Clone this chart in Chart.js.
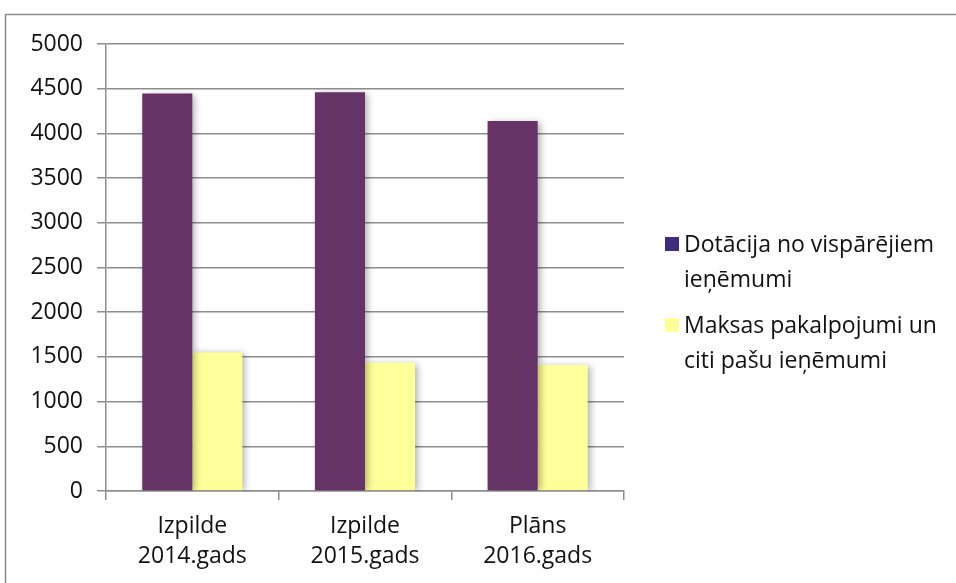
<!DOCTYPE html>
<html>
<head>
<meta charset="utf-8">
<script src="https://cdn.jsdelivr.net/npm/chart.js@4"></script>
<style>
  html, body { margin: 0; padding: 0; background: #fff; }
  #wrap { width: 956px; height: 583px; position: relative; }
</style>
</head>
<body>
<div id="wrap"><canvas id="c" width="956" height="583"></canvas></div>
<script>
const categories = [['Izpilde', '2014.gads'], ['Izpilde', '2015.gads'], ['Plāns', '2016.gads']];
const seriesNames = [['Dotācija no vispārējiem', 'ieņēmumi'], ['Maksas pakalpojumi un', 'citi pašu ieņēmumi']];
const dotacija = [4445, 4460, 4140];
const maksas = [1550, 1435, 1410];
const yTicks = [0, 500, 1000, 1500, 2000, 2500, 3000, 3500, 4000, 4500, 5000];

const FONT = "'Open Sans', 'Liberation Sans', sans-serif";
const TEXT = '#111111';
const GRID = '#8e8e8e';

const framePlugin = {
  id: 'frame',
  beforeDraw(chart) {
    const ctx = chart.ctx;
    ctx.save();
    ctx.fillStyle = '#fff';
    ctx.fillRect(0, 0, chart.width, chart.height);
    ctx.strokeStyle = '#8a8a8a';
    ctx.lineWidth = 1.5;
    ctx.beginPath();
    ctx.moveTo(chart.width, 14.5);
    ctx.lineTo(5.5, 14.5);
    ctx.lineTo(5.5, chart.height);
    ctx.stroke();
    ctx.restore();
  }
};

const shadowPlugin = {
  id: 'barShadow',
  beforeDatasetsDraw(chart) {
    const ctx = chart.ctx;
    ctx.save();
    ctx.shadowColor = 'rgba(0,0,0,0.32)';
    ctx.shadowBlur = 7;
    ctx.shadowOffsetX = 3;
    ctx.shadowOffsetY = 1;
  },
  afterDatasetsDraw(chart) {
    chart.ctx.restore();
  }
};

const legendPlugin = {
  id: 'sideLegend',
  afterDraw(chart, args, opts) {
    const ctx = chart.ctx;
    ctx.save();
    ctx.font = opts.fontSize + 'px ' + FONT;
    ctx.textBaseline = 'middle';
    ctx.textAlign = 'left';
    let y = opts.top;
    chart.data.datasets.forEach((ds, i) => {
      const lines = Array.isArray(ds.label) ? ds.label : [ds.label];
      ctx.fillStyle = opts.boxColors[i] || ds.backgroundColor;
      ctx.fillRect(opts.left, y - opts.box / 2 - 1, opts.box, opts.box);
      ctx.fillStyle = TEXT;
      lines.forEach((ln, j) => {
        ctx.fillText(ln, opts.left + opts.box + opts.gap, y + j * opts.lineHeight);
      });
      y += lines.length * opts.lineHeight + opts.itemGap;
    });
    ctx.restore();
  }
};

new Chart(document.getElementById('c'), {
  type: 'bar',
  data: {
    labels: categories,
    datasets: [
      { label: seriesNames[0], data: dotacija, backgroundColor: '#663366', borderWidth: 0 },
      { label: seriesNames[1], data: maksas, backgroundColor: '#ffff99', borderWidth: 0 }
    ]
  },
  options: {
    responsive: false,
    animation: false,
    devicePixelRatio: 1,
    layout: { padding: { left: 6, top: 44, right: 332, bottom: 0 } },
    datasets: { bar: { barPercentage: 1.0, categoryPercentage: 0.58 } },
    plugins: {
      legend: { display: false },
      tooltip: { enabled: false },
      sideLegend: {
        left: 665, top: 245, box: 14, gap: 5, lineHeight: 35, itemGap: 11, fontSize: 23,
        boxColors: ['#402c7c', '#ffff99']
      }
    },
    scales: {
      x: {
        afterFit(scale) { scale.height = 92; },
        grid: { offset: true, drawOnChartArea: false, drawTicks: true, tickLength: 9, color: GRID, lineWidth: 1.5 },
        border: { display: true, color: GRID, width: 1.5 },
        ticks: { color: TEXT, font: { family: FONT, size: 23, lineHeight: 1.3 }, padding: 12, maxRotation: 0 }
      },
      y: {
        min: 0,
        max: 5000,
        afterFit(scale) { scale.width = 100; },
        afterBuildTicks(scale) { scale.ticks = yTicks.map(v => ({ value: v })); },
        grid: { color: GRID, lineWidth: 1.5, tickLength: 9 },
        border: { display: true, color: GRID, width: 1.5 },
        ticks: { color: TEXT, font: { family: FONT, size: 23 }, padding: 14, callback: v => String(v) }
      }
    }
  },
  plugins: [framePlugin, shadowPlugin, legendPlugin]
});
</script>
</body>
</html>
